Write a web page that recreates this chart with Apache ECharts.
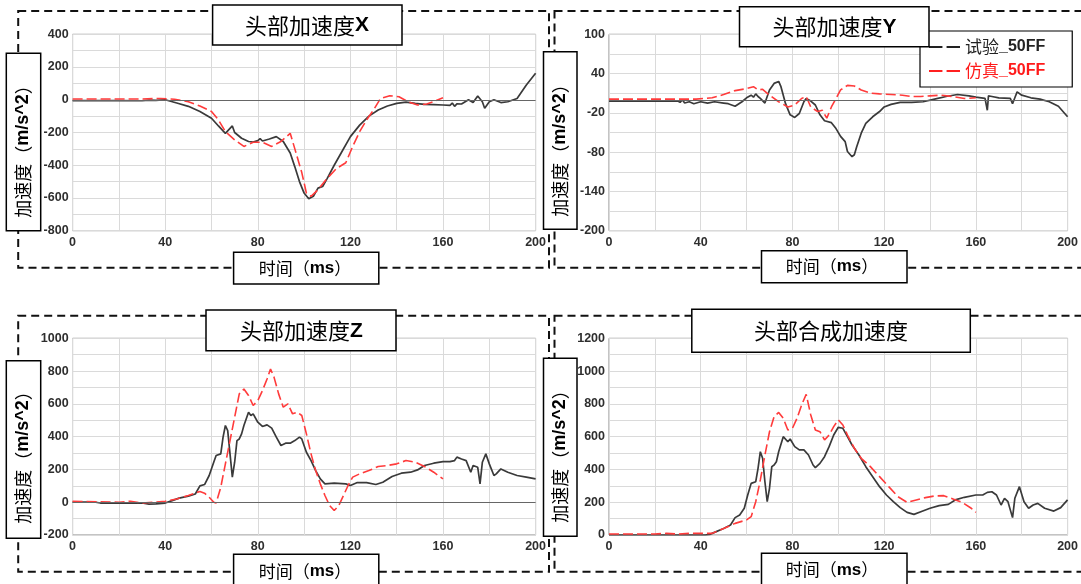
<!DOCTYPE html>
<html><head><meta charset="utf-8">
<script src="https://cdn.jsdelivr.net/npm/echarts@6/dist/echarts.min.js"></script>
<style>html,body{margin:0;padding:0;background:#fff}#c{width:1081px;height:584px}</style>
</head><body><div id="c"></div>
<script>
// ---- data (time ms, acceleration m/s^2) ----
const panelTitles = ['头部加速度', '头部加速度', '头部加速度', '头部合成加速度'];
const panelSuffix = ['X', 'Y', 'Z', ''];
const seriesNames = ['试验_50FF', '仿真_50FF'];
const xTicks = {min: 0, max: 200, interval: 40};
const yRanges = [
  {min: -800, max: 400, interval: 200},
  {min: -200, max: 100, interval: 60},
  {min: -200, max: 1000, interval: 200},
  {min: 0, max: 1200, interval: 200}
];

const accX_test = [[0,-5],[20,-5],[30,-6],[33,-2],[36,-4],[40,0],[45,-20],[50,-40],[55,-72],[60,-113],[63,-160],[66,-205],[68,-175],[69,-160],[70,-200],[73,-235],[76,-255],[78,-258],[80,-250],[81,-238],[82,-252],[85,-240],[88,-225],[91,-255],[94,-325],[96,-410],[98,-500],[100,-570],[102,-605],[104,-590],[106,-540],[108,-530],[110,-480],[113,-400],[116,-325],[120,-225],[124,-155],[128,-100],[132,-63],[136,-38],[140,-22],[144,-14],[148,-22],[152,-28],[156,-30],[160,-32],[163,-34],[164,-20],[165,-40],[166,-25],[168,-26],[171,0],[173,-17],[175,23],[177,-12],[178,-52],[180,-12],[182,0],[185,-17],[188,-12],[192,8],[196,90],[200,162]];
const accX_sim = [[0,5],[30,5],[38,8],[44,3],[50,-12],[55,-38],[60,-72],[63,-123],[66,-195],[70,-245],[74,-285],[78,-260],[82,-260],[86,-285],[90,-255],[94,-205],[96,-300],[99,-445],[101,-570],[103,-590],[106,-550],[110,-480],[114,-420],[118,-385],[121,-285],[124,-195],[127,-123],[130,-62],[133,8],[137,25],[141,18],[145,-12],[149,-32],[153,-26],[157,-5],[160,13]];

const accY_test = [[0,-2],[30,-2],[31,-4],[32,0],[33,-5],[35,-3],[37,-6],[40,-3],[43,-5],[46,-3],[50,-5],[52,-6],[55,-10],[58,-3],[60,3],[62,7],[63,4],[64,9],[65,5],[66,2],[68,-5],[70,15],[72,25],[74,28],[75,20],[77,-6],[79,-23],[81,-27],[83,-21],[85,-3],[86,2],[88,-2],[90,-8],[92,-23],[94,-32],[97,-35],[99,-44],[101,-56],[103,-64],[104,-79],[106,-87],[107,-84],[108,-72],[110,-51],[112,-36],[115,-26],[118,-18],[120,-11],[123,-7],[127,-4],[132,-4],[137,-3],[142,1],[147,5],[152,8],[157,6],[160,4],[164,2],[165,-16],[165.5,6],[167,5],[170,3],[175,2],[176,-6],[177,3],[178,12],[180,7],[184,3],[188,1],[192,-3],[196,-10],[200,-26]];
const accY_sim = [[0,1],[38,1],[45,3],[50,8],[55,14],[60,17],[63,20],[65,15],[67,16],[70,7],[74,-3],[78,-11],[81,-8],[84,2],[86,5],[88,-11],[91,-18],[93,-16],[95,-28],[97,-11],[99,2],[101,15],[104,22],[107,21],[110,15],[114,10],[118,9],[123,8],[128,7],[132,5],[136,5],[140,6],[145,7],[150,5],[155,2],[160,3]];

const accZ_test = [[0,0],[10,0],[12,-5],[30,-5],[33,-12],[36,-10],[40,-5],[43,10],[46,25],[50,37],[53,50],[55,100],[57,108],[59,163],[61,245],[62,285],[64,295],[65,397],[66,468],[67,437],[68,295],[69,153],[70,244],[71,376],[72,386],[73,417],[74,468],[76,549],[77,529],[78,539],[80,488],[82,462],[84,472],[86,452],[88,397],[90,346],[92,360],[94,360],[96,376],[98,397],[99,386],[101,305],[103,254],[105,193],[107,142],[109,112],[113,116],[118,112],[120,102],[123,120],[127,120],[131,108],[134,122],[138,157],[142,177],[146,183],[149,197],[152,224],[156,238],[160,248],[163,248],[165,254],[166,275],[168,264],[170,254],[172,183],[173,224],[175,213],[176,112],[177,244],[178.5,295],[180,234],[182,163],[183,173],[185,203],[188,183],[192,163],[196,153],[200,142]];
const accZ_sim = [[0,6],[20,0],[25,6],[30,-5],[35,0],[40,6],[45,20],[50,41],[53,57],[55,65],[57,55],[59,30],[61,0],[62,-5],[64,91],[66,234],[68,376],[70,519],[72,661],[74,691],[76,651],[78,590],[80,620],[82,681],[84,752],[85.5,813],[87,763],[89,661],[91,580],[93,600],[95,539],[97,549],[99,529],[101,417],[103,295],[105,193],[107,112],[109,41],[111,-20],[113,-51],[115,-20],[117,41],[119,102],[121,153],[124,173],[128,193],[132,218],[136,224],[140,234],[144,254],[148,244],[152,218],[156,183],[160,142]];

const accR_test = [[0,0],[42,0],[44,4],[46,16],[50,40],[53,61],[55,106],[57,122],[59,163],[60.5,244],[62,315],[64,325],[65,407],[66,508],[67,468],[68,325],[69,203],[70,285],[71,417],[72,427],[73,447],[74,508],[76,600],[78,569],[79,586],[81,539],[83,519],[85,519],[87,488],[89,427],[90,411],[92,437],[94,478],[96,539],[98,610],[100,657],[102,651],[104,600],[106,549],[109,488],[112,417],[115,356],[118,295],[121,244],[124,203],[127,167],[130,138],[133,126],[136,142],[140,163],[144,179],[148,187],[151,214],[155,230],[160,244],[163,244],[165,260],[167,264],[169,244],[171,183],[172.5,224],[174,203],[176,106],[177,224],[179,295],[181,203],[183,163],[185,183],[187,193],[190,163],[194,146],[197,167],[200,214]];
const accR_sim = [[0,6],[20,6],[25,10],[30,6],[35,10],[45,10],[50,40],[55,71],[60,92],[62,112],[64,203],[66,336],[68,488],[70,630],[72,722],[74,748],[76,712],[78,641],[80,651],[82,712],[84,793],[86,858],[88,732],[90,641],[92,630],[94,580],[96,610],[98,661],[100,702],[102,671],[104,610],[107,529],[110,468],[114,417],[118,356],[122,295],[126,234],[130,199],[134,214],[138,228],[142,238],[146,240],[150,220],[154,199],[158,163],[160,138]];

const testData = [accX_test, accY_test, accZ_test, accR_test];
const simData = [accX_sim, accY_sim, accZ_sim, accR_sim];

// ---- layout ----
const grids = [
  {left: 72.6, top: 34.3, width: 463, height: 196.4},
  {left: 609, top: 34.3, width: 462.4, height: 196.4},
  {left: 72.6, top: 338.3, width: 463, height: 196.7},
  {left: 609, top: 338.3, width: 462.4, height: 196.7}
];
const dashBoxes = [
  [18.2, 11, 530.8, 256.7], [554.5, 11, 540, 256.7],
  [18.2, 315.7, 530.8, 256], [554.5, 315.7, 540, 256]
];
const titleBoxes = [[212.6, 5, 189.4, 40], [739.5, 6.7, 189.5, 40], [206, 310, 190, 40.7], [691.8, 309.3, 278.5, 43]];
const titleCenters = [[307, 25.5], [834.5, 27], [301.5, 331], [831, 331]];
const yLabBoxes = [[6.3, 53.3, 34.4, 177.4], [543.5, 51.7, 33.5, 177.6], [6.3, 360.7, 34.4, 177.6], [543.5, 358.3, 33.5, 178]];
const yLabCenters = [[23.5, 147], [560.5, 146], [23.5, 453], [560.5, 452]];
const xLabBoxes = [[233.6, 252.3, 145.2, 31.7], [761.5, 250.7, 145.5, 32], [233.6, 554.3, 145.2, 40], [761.5, 553.3, 145.5, 40]];
const xLabCenters = [[305, 268.5], [832, 266.5], [305, 571.5], [832, 570]];

const CJK = '"Noto Sans CJK SC", sans-serif';
const LAT = '"Liberation Sans", Arial, sans-serif';
const gridColor = '#dadada';
const tickFont = {color: '#2e2e2e', fontSize: 12.5, fontWeight: 'bold', fontFamily: LAT, formatter: v => String(v)};

const xAxes = [], yAxes = [], series = [], graphics = [];
for (let i = 0; i < 4; i++) {
  xAxes.push({
    type: 'value', gridIndex: i, min: xTicks.min, max: xTicks.max, interval: xTicks.interval,
    axisLine: {show: false}, axisTick: {show: false},
    splitLine: {show: true, lineStyle: {color: gridColor, width: 1}},
    minorTick: {show: false, splitNumber: 2},
    minorSplitLine: {show: true, lineStyle: {color: gridColor, width: 1}},
    axisLabel: Object.assign({margin: 5, showMinLabel: true, showMaxLabel: true}, tickFont)
  });
  yAxes.push({
    type: 'value', gridIndex: i, min: yRanges[i].min, max: yRanges[i].max, interval: yRanges[i].interval,
    axisLine: {show: false}, axisTick: {show: false},
    splitLine: {show: true, lineStyle: {color: gridColor, width: 1}},
    minorTick: {show: false, splitNumber: 2},
    minorSplitLine: {show: true, lineStyle: {color: gridColor, width: 1}},
    axisLabel: Object.assign({margin: 4, showMinLabel: true, showMaxLabel: true}, tickFont)
  });
  const zeroLine = (yRanges[i].min < 0) ? {
    silent: true, symbol: 'none', label: {show: false}, animation: false,
    lineStyle: {color: '#666', width: 1, type: 'solid'}, data: [{yAxis: 0}]
  } : undefined;
  series.push({
    name: seriesNames[0], type: 'line', xAxisIndex: i, yAxisIndex: i, data: testData[i],
    showSymbol: false, symbol: 'none', color: '#222',
    itemStyle: {color: '#222'},
    lineStyle: {color: '#3a3a3a', width: 1.7}, z: 3, markLine: zeroLine, animation: false
  });
  series.push({
    name: seriesNames[1], type: 'line', xAxisIndex: i, yAxisIndex: i, data: simData[i],
    showSymbol: false, symbol: 'none', color: '#ff2020',
    itemStyle: {color: '#ff2020'},
    lineStyle: {color: '#ff3b3b', width: 1.6, type: [10, 4]}, z: 4, animation: false
  });

  const d = dashBoxes[i];
  graphics.push({type: 'rect', z: 0, silent: true, shape: {x: d[0], y: d[1], width: d[2], height: d[3]},
    style: {fill: 'none', stroke: '#111', lineWidth: 2, lineDash: [8, 5]}});
  const t = titleBoxes[i];
  graphics.push({type: 'rect', z: 100, silent: true, shape: {x: t[0], y: t[1], width: t[2], height: t[3]},
    style: {fill: '#fff', stroke: '#000', lineWidth: 1.5}});
  graphics.push({type: 'text', z: 101, silent: true, x: titleCenters[i][0], y: titleCenters[i][1],
    style: {text: '{a|' + panelTitles[i] + '}' + (panelSuffix[i] ? '{b|' + panelSuffix[i] + '}' : ''),
      align: 'center', verticalAlign: 'middle',
      rich: {a: {fontFamily: CJK, fontSize: 22, fill: '#000'}, b: {fontFamily: LAT, fontSize: 21, fontWeight: 'bold', fill: '#000'}}}});
  const y = yLabBoxes[i];
  graphics.push({type: 'rect', z: 100, silent: true, shape: {x: y[0], y: y[1], width: y[2], height: y[3]},
    style: {fill: '#fff', stroke: '#000', lineWidth: 1.5}});
  graphics.push({type: 'text', z: 101, silent: true, x: yLabCenters[i][0], y: yLabCenters[i][1], rotation: Math.PI / 2,
    style: {text: '{a|加速度（}{b|m/s^2}{a|）}', align: 'center', verticalAlign: 'middle',
      rich: {a: {fontFamily: CJK, fontSize: 18, fill: '#000'}, b: {fontFamily: LAT, fontSize: 18, fontWeight: 'bold', fill: '#000'}}}});
  const xb = xLabBoxes[i];
  graphics.push({type: 'rect', z: 100, silent: true, shape: {x: xb[0], y: xb[1], width: xb[2], height: xb[3]},
    style: {fill: '#fff', stroke: '#000', lineWidth: 1.5}});
  graphics.push({type: 'text', z: 101, silent: true, x: xLabCenters[i][0], y: xLabCenters[i][1],
    style: {text: '{a|时间（}{b|ms}{a|）}', align: 'center', verticalAlign: 'middle',
      rich: {a: {fontFamily: CJK, fontSize: 17, fill: '#000'}, b: {fontFamily: LAT, fontSize: 17, fontWeight: 'bold', fill: '#000'}}}});
}

const grid = grids.map(g => Object.assign({show: true, borderColor: '#888', borderWidth: 1, backgroundColor: 'transparent', containLabel: false}, g));

const chart = echarts.init(document.getElementById('c'), null, {renderer: 'canvas'});
chart.setOption({
  backgroundColor: '#fff',
  animation: false,
  grid: grid,
  xAxis: xAxes,
  yAxis: yAxes,
  legend: {
    show: true, orient: 'vertical', left: 920, top: 31, z: 50,
    backgroundColor: '#fff', borderColor: '#000', borderWidth: 1.2, borderRadius: 0,
    padding: [6, 27, 6, 9], itemGap: 4, itemWidth: 31, itemHeight: 2.5, itemTextGap: 3,
    icon: 'path://M0,0H13V2H0ZM17,0H30V2H17Z',
    itemStyle: {borderWidth: 0},
    selectedMode: false,
    formatter: function (n) { const p = n.split('_'); return '{a|' + p[0] + '}{b|_' + p[1] + '}'; },
    textStyle: {fontSize: 16, lineHeight: 20,
      rich: {a: {fontFamily: CJK, fontSize: 17}, b: {fontFamily: LAT, fontSize: 16, fontWeight: 'bold'}}},
    data: [
      {name: seriesNames[0], textStyle: {color: '#222'}},
      {name: seriesNames[1], textStyle: {color: '#ff1a1a'}}
    ]
  },
  graphic: {elements: graphics},
  series: series
});
</script></body></html>
